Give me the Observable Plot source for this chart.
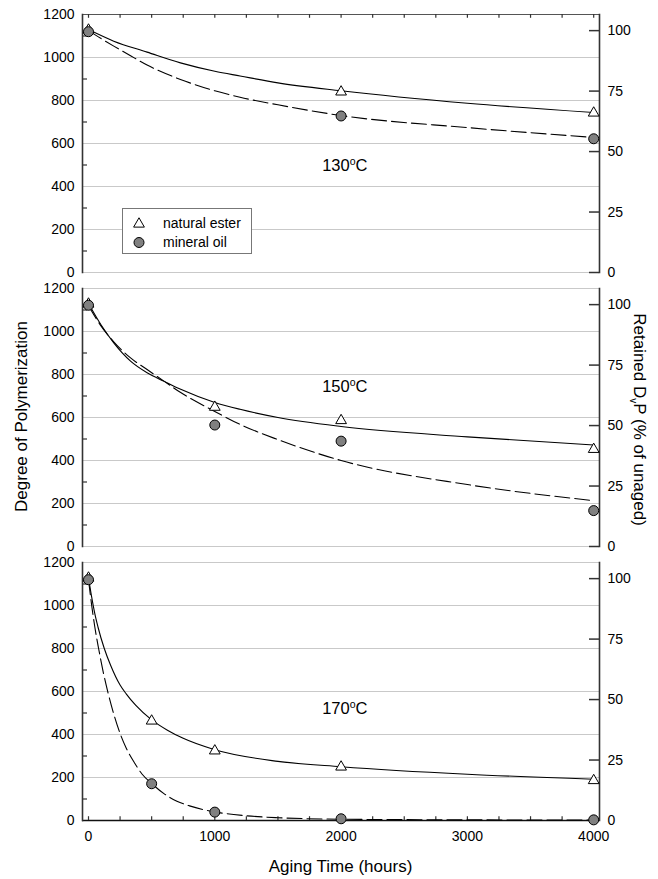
<!DOCTYPE html>
<html>
<head>
<meta charset="utf-8">
<script src="https://cdn.jsdelivr.net/npm/d3@7"></script>
<script src="https://cdn.jsdelivr.net/npm/@observablehq/plot@0.6"></script>
<style>
  body { margin: 0; background: #fff; }
  #wrap { position: relative; width: 658px; height: 879px; font-family: "Liberation Sans", Arial, sans-serif; }
  #wrap svg { display: block; }
</style>
</head>
<body>
<div id="wrap"></div>
<script>
// ---------- data ----------
const temps = ["130", "150", "170"];
const seriesNames = ["natural ester", "mineral oil"];
const unagedDP = 1125;

const xTickValues = [0, 1000, 2000, 3000, 4000];
const xMinorTicks = [0, 250, 500, 750, 1000, 1250, 1500, 1750, 2000, 2250, 2500, 2750, 3000, 3250, 3500, 3750, 4000];
const yTickValues = [0, 200, 400, 600, 800, 1000, 1200];
const yMinorTicks = [100, 300, 500, 700, 900, 1100];
const pctTickValues = [0, 25, 50, 75, 100];

// measured points
const ester130Hours = [0, 2000, 4000];
const ester130DP = [1128, 840, 742];
const oil130Hours = [0, 2000, 4000];
const oil130DP = [1120, 728, 622];
const ester150Hours = [0, 1000, 2000, 4000];
const ester150DP = [1128, 648, 586, 452];
const oil150Hours = [0, 1000, 2000, 4000];
const oil150DP = [1122, 565, 490, 167];
const ester170Hours = [0, 500, 1000, 2000, 4000];
const ester170DP = [1128, 463, 324, 249, 186];
const oil170Hours = [0, 500, 1000, 2000, 4000];
const oil170DP = [1120, 171, 39, 8, 3];

// fitted curves
const esterFit130Hours = [0, 200, 464, 728, 1000, 1200, 1500, 2000, 3000, 4000];
const esterFit130DP = [1130, 1076, 1025, 975, 936, 914, 882, 845, 787, 744];
const oilFit130Hours = [0, 100, 200, 333, 464, 728, 1000, 1200, 1500, 2000, 3000, 4000];
const oilFit130DP = [1125, 1088, 1053, 1008, 965, 898, 845, 815, 780, 730, 674, 628];
const esterFit150Hours = [0, 100, 200, 333, 464, 600, 730, 1000, 1200, 1500, 2000, 3000, 4000];
const esterFit150DP = [1130, 1030, 947, 862, 808, 768, 731, 670, 638, 600, 558, 510, 472];
const oilFit150Hours = [0, 100, 200, 333, 464, 600, 730, 1000, 1200, 1500, 2000, 3000, 4000];
const oilFit150DP = [1120, 1025, 952, 877, 823, 768, 716, 628, 568, 497, 400, 288, 213];
const esterFit170Hours = [0, 25, 50, 75, 125, 175, 250, 300, 375, 500, 625, 750, 1000, 1500, 2000, 3000, 4000];
const esterFit170DP = [1130, 1040, 962, 900, 800, 722, 630, 588, 535, 468, 420, 382, 329, 275, 250, 215, 192];
const oilFit170Hours = [0, 25, 50, 80, 115, 150, 200, 250, 300, 360, 425, 500, 600, 700, 800, 1000, 1250, 1500, 2000, 3000, 4000];
const oilFit170DP = [1120, 1002, 900, 800, 695, 605, 495, 405, 335, 272, 215, 172, 124, 90, 68, 40, 22, 13, 6, 3, 2];

// temperature annotations
const labelHours = 1850;
const labelDP = [498, 744, 520];

// ---------- layout ----------
const W = 658, H = 879;
const mL = 82, mR = 59, mT = 13, mB = 59;
const gapRatio = 0.059;
const xDomain = [-47.5, 4046];
const yDomain = [0, 1200];
const FONT = '"Liberation Sans", Arial, Helvetica, sans-serif';

const innerH = H - mT - mB;
const step = innerH / (temps.length - gapRatio);
const bandH = step * (1 - gapRatio);
const frameW = W - mL - mR;

function rows(temp, series, hours, dp) {
  return hours.map((h, i) => ({temp, series, hours: h, dp: dp[i]}));
}
const points = [
  ...rows(temps[0], seriesNames[0], ester130Hours, ester130DP),
  ...rows(temps[0], seriesNames[1], oil130Hours, oil130DP),
  ...rows(temps[1], seriesNames[0], ester150Hours, ester150DP),
  ...rows(temps[1], seriesNames[1], oil150Hours, oil150DP),
  ...rows(temps[2], seriesNames[0], ester170Hours, ester170DP),
  ...rows(temps[2], seriesNames[1], oil170Hours, oil170DP)
];
const fits = [
  ...rows(temps[0], seriesNames[0], esterFit130Hours, esterFit130DP),
  ...rows(temps[0], seriesNames[1], oilFit130Hours, oilFit130DP),
  ...rows(temps[1], seriesNames[0], esterFit150Hours, esterFit150DP),
  ...rows(temps[1], seriesNames[1], oilFit150Hours, oilFit150DP),
  ...rows(temps[2], seriesNames[0], esterFit170Hours, esterFit170DP),
  ...rows(temps[2], seriesNames[1], oilFit170Hours, oilFit170DP)
];
const isEster = d => d.series === seriesNames[0];
const isOil = d => d.series === seriesNames[1];

const chart = Plot.plot({
  width: W, height: H,
  marginLeft: mL, marginRight: mR, marginTop: mT, marginBottom: mB,
  style: {fontFamily: FONT, fontSize: "14px", color: "#000", background: "transparent", overflow: "visible"},
  x: {domain: xDomain},
  y: {domain: yDomain},
  fy: {domain: temps, paddingInner: gapRatio, paddingOuter: 0, axis: null, label: null},
  marks: [
    Plot.gridY(yTickValues, {stroke: "#c9c9c9", strokeOpacity: 1, strokeWidth: 1}),
    Plot.ruleY([yDomain[1]], {fy: () => temps[0], stroke: "#555", strokeWidth: 1.2}),
    Plot.ruleY([yDomain[0]], {fy: () => temps[2], stroke: "#111", strokeWidth: 1.5}),
    Plot.frame({anchor: "left", stroke: "#333", strokeWidth: 1.6}),
    Plot.frame({anchor: "right", stroke: "#333", strokeWidth: 1.6}),
    Plot.tickY(yMinorTicks, {y: d => d, insetRight: frameW - 5, stroke: "#333", strokeWidth: 1.2}),
    Plot.tickY(pctTickValues, {y: p => p * unagedDP / 100, insetLeft: frameW - 10, stroke: "#333", strokeWidth: 1.5}),
    Plot.tickX(xMinorTicks, {x: d => d, fy: () => temps[0], insetBottom: bandH - 4, stroke: "#333", strokeWidth: 1.2}),
    Plot.tickX(xMinorTicks, {x: d => d, fy: () => temps[2], insetTop: bandH - 4, stroke: "#333", strokeWidth: 1.2}),
    Plot.axisY({ticks: yTickValues, anchor: "left", tickFormat: d => String(d), tickSize: 0, tickPadding: 8, fontSize: 14, label: null}),
    Plot.axisY({ticks: pctTickValues.map(p => p * unagedDP / 100), anchor: "right",
      tickFormat: d => String(Math.round(d / unagedDP * 100)), tickSize: 0, tickPadding: 8, fontSize: 14, label: null}),
    Plot.axisX({ticks: xTickValues, anchor: "bottom", tickFormat: d => String(d), tickSize: 0, tickPadding: 11, fontSize: 14, label: null}),
    Plot.line(fits.filter(isEster), {x: "hours", y: "dp", fy: "temp", stroke: "#000", strokeWidth: 1.1, curve: "monotone-x"}),
    Plot.line(fits.filter(isOil), {x: "hours", y: "dp", fy: "temp", stroke: "#000", strokeWidth: 1.1, curve: "monotone-x", strokeDasharray: "15,5"}),
    Plot.dot(points.filter(isEster), {x: "hours", y: "dp", fy: "temp", symbol: "triangle", r: 4, fill: "#fff", stroke: "#000", strokeWidth: 1}),
    Plot.dot(points.filter(isOil), {x: "hours", y: "dp", fy: "temp", symbol: "circle", r: 5, fill: "#808080", stroke: "#000", strokeWidth: 1}),
    Plot.text(temps, {fy: d => d, x: () => labelHours, y: (d, i) => labelDP[i], text: d => `${d}°C`,
      textAnchor: "start", fontSize: 16.5, fill: "#000"})
  ]
});

const wrap = document.getElementById("wrap");
wrap.appendChild(chart);

// superscript "o" in temperature labels
const svg = d3.select(chart);
svg.selectAll("text").each(function () {
  const m = /^(\d+)°C$/.exec(this.textContent);
  if (!m) return;
  const t = d3.select(this);
  t.text(null);
  t.append("tspan").text(m[1]);
  t.append("tspan").attr("dy", -6).attr("font-size", 10.5).text("o");
  t.append("tspan").attr("dy", 6).text("C");
});

// axis titles
const frameMidY = (mT + H - mB) / 2;
svg.append("text")
  .attr("transform", `translate(27,${frameMidY}) rotate(-90)`)
  .attr("text-anchor", "middle").attr("font-size", 17).attr("font-family", FONT).attr("fill", "#000")
  .text("Degree of Polymerization");
const rt = svg.append("text")
  .attr("transform", `translate(634,${frameMidY + 3}) rotate(90)`)
  .attr("text-anchor", "middle").attr("font-size", 17).attr("font-family", FONT).attr("fill", "#000");
rt.append("tspan").text("Retained D");
rt.append("tspan").attr("dy", 4).attr("font-size", 10).text("v");
rt.append("tspan").attr("dy", -4).text("P (% of unaged)");
svg.append("text")
  .attr("x", (mL + W - mR) / 2).attr("y", 872)
  .attr("text-anchor", "middle").attr("font-size", 17).attr("font-family", FONT).attr("fill", "#000")
  .text("Aging Time (hours)");

// legend (overlay box in the 130 °C panel)
const leg = d3.select(wrap).append("svg")
  .attr("width", 130).attr("height", 46)
  .style("position", "absolute").style("left", "121.5px").style("top", "207.5px");
leg.append("rect").attr("x", 0.5).attr("y", 0.5).attr("width", 129).attr("height", 45)
  .attr("fill", "#fff").attr("stroke", "#777").attr("stroke-width", 1);
const legSymbols = [d3.symbolTriangle, d3.symbolCircle];
const legFills = ["#fff", "#808080"];
const legR = [4, 5];
const legSymY = [16, 34.5];
const legTextY = [19.5, 39];
seriesNames.forEach((name, i) => {
  leg.append("path")
    .attr("d", d3.symbol(legSymbols[i], legR[i] * legR[i] * Math.PI)())
    .attr("transform", `translate(17,${legSymY[i]})`)
    .attr("fill", legFills[i]).attr("stroke", "#000").attr("stroke-width", 1);
  leg.append("text").attr("x", 41).attr("y", legTextY[i])
    .attr("font-size", 14).attr("font-family", FONT).attr("fill", "#000").text(name);
});
</script>
</body>
</html>
